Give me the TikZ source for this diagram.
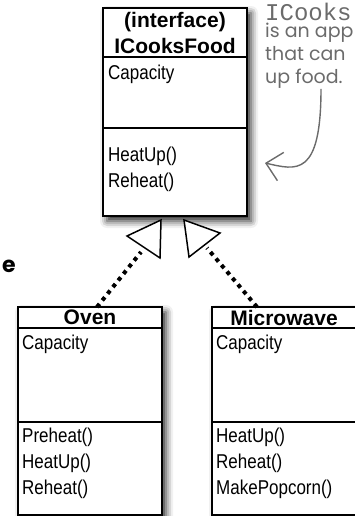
\documentclass[tikz,border=0pt]{standalone}
\usepackage{fontspec}
\setmainfont[FakeStretch=0.85]{Liberation Sans}
\newfontfamily\headfont{Liberation Sans}
\newfontfamily\notefont{Poppins}
\newfontfamily\codefont{Liberation Mono}
\usepackage{tikz}
\usetikzlibrary{positioning,arrows.meta,shadows.blur,backgrounds}

\begin{document}
\begin{tikzpicture}[x=1pt,y=-1pt,
  head/.style={draw,line width=1.5pt,outer sep=0pt,minimum width=144pt,inner sep=0pt,align=center,font=\headfont\bfseries\fontsize{21}{26}\selectfont},
  part/.style={draw,line width=1.5pt,outer sep=0pt,minimum width=144pt,inner sep=0pt},
  item/.style={anchor=north west,inner sep=0pt,align=left,font=\fontsize{20}{26}\selectfont},
  dots/.style={line width=4pt,dash pattern=on 4pt off 4.5pt},
  hollow/.style={draw,fill=white,line width=1.5pt,line join=miter},
  note/.style={text=black!58,anchor=north west,inner sep=0pt,align=left},
  shade/.style={fill=white,blur shadow={shadow xshift=4pt,shadow yshift=-5pt,shadow blur radius=7pt,shadow opacity=85}}
]
\useasboundingbox (0,0) rectangle (354,516);

% interface box
\node[head,minimum height=49pt,anchor=north] (iface) at (175,8) {(interface)\\ICooksFood};
\node[part,minimum height=71pt,below=0pt of iface] (ifaceA) {};
\node[part,minimum height=88pt,below=0pt of ifaceA] (ifaceM) {};
\node[item,xshift=5pt,yshift=-8pt] at (ifaceA.north west) {Capacity};
\node[item,xshift=5pt,yshift=-19pt] at (ifaceM.north west) {HeatUp()\\Reheat()};

% classes
\node[head,minimum height=21pt,anchor=north] (oven) at (90,307) {Oven};
\node[part,minimum height=94pt,below=0pt of oven] (ovenA) {};
\node[part,minimum height=93pt,below=0pt of ovenA] (ovenM) {};
\node[item,xshift=4pt,yshift=-7pt] at (ovenA.north west) {Capacity};
\node[item,xshift=4pt,yshift=-6pt] at (ovenM.north west) {Preheat()\\HeatUp()\\Reheat()};

\node[head,minimum height=21pt,anchor=north] (micro) at (284,307) {Microwave};
\node[part,minimum height=94pt,below=0pt of micro] (microA) {};
\node[part,minimum height=93pt,below=0pt of microA] (microM) {};
\node[item,xshift=4pt,yshift=-7pt] at (microA.north west) {Capacity};
\node[item,xshift=4pt,yshift=-6pt] at (microM.north west) {HeatUp()\\Reheat()\\MakePopcorn()};

\begin{scope}[on background layer]
\path[shade] (iface.north west) rectangle (ifaceM.south east);
\path[shade] (oven.north west) rectangle (ovenM.south east);
\path[shade] (micro.north west) rectangle (microM.south east);
\end{scope}

% realization arrows
\coordinate (endL) at (141,252);
\coordinate (endR) at (207,248);
\draw[dots] ([xshift=7pt]oven.north) -- (endL);
\draw[dots] ([xshift=-27pt]micro.north) -- (endR);
\draw[hollow] (127,236) -- (161,220) -- (160,258) -- cycle;
\draw[hollow] (184,220) -- (220,233) -- (189,257) -- cycle;

% note
\node[note,font=\codefont\fontsize{24}{24}\selectfont] (code) at (265,3) {ICooks};
\node[note,font=\notefont\fontsize{19}{23}\selectfont] (text) at (265,23) {is an app\\that can\\up food.};
\coordinate (aim) at (265,163);
\draw[black!58,line width=1.4pt,-{Straight Barb[length=15pt,width=29pt]}]
  ([xshift=56pt]text.south west) .. controls (321,178) and (296,170) .. (aim);

\node[anchor=mid west,inner sep=0pt,font=\notefont\bfseries\fontsize{22}{22}\selectfont] (cut) at (2,270) {e};
\end{tikzpicture}
\end{document}
